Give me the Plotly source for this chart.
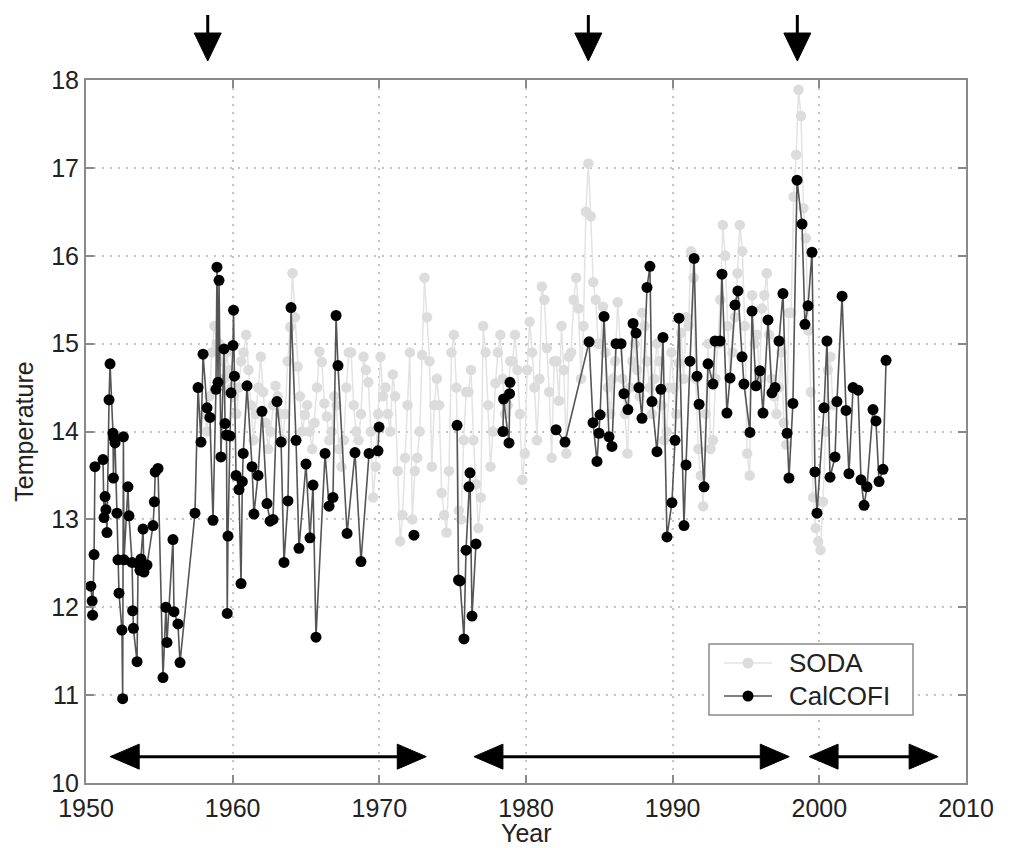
import plotly.graph_objects as go

# ---------------- data ----------------
x_ticks = [1950, 1960, 1970, 1980, 1990, 2000, 2010]
y_ticks = [10, 11, 12, 13, 14, 15, 16, 17, 18]

# CalCOFI (None = no sample, line break)
cal_year = [
    1950.33, 1950.42, 1950.45, 1950.55, 1950.61, 1951.16, 1951.23, 1951.30, 1951.36, 1951.43,
    1951.57, 1951.64, 1951.84, 1951.87, 1951.91, 1951.98, 1952.11, 1952.18, 1952.25, 1952.45,
    1952.50, 1952.55, 1952.59, 1952.86, 1952.93, 1953.14, 1953.18, 1953.23, 1953.48, 1953.55,
    1953.68, 1953.75, 1953.89, 1953.95, 1954.16, 1954.57, 1954.66, 1954.72, 1954.91, 1955.25,
    1955.45, 1955.52, 1955.93, 1956.00, 1956.27, 1956.41, 1957.43, 1957.64, 1957.84, 1957.98,
    1958.25, 1958.45, 1958.66, 1958.86, 1958.93, 1959.00, 1959.07, 1959.20, 1959.41, 1959.48,
    1959.58, 1959.63, 1959.68, 1959.82, 1959.89, 1960.02, 1960.06, 1960.12, 1960.23, 1960.43,
    1960.57, 1960.66, 1960.72, 1960.98, 1961.32, 1961.45, 1961.73, 1962.00, 1962.34, 1962.55,
    1962.75, 1963.02, 1963.30, 1963.50, 1963.77, 1963.98, 1964.32, 1964.52, 1965.00, 1965.27,
    1965.48, 1965.68, 1966.30, 1966.57, 1966.84, 1967.05, 1967.18, 1967.80, 1968.34, 1968.75,
    1969.30, 1969.91, 1969.98, None, 1972.36, None,
    1975.30, 1975.40, 1975.50, 1975.77, 1975.91, 1976.11, 1976.18, 1976.32, 1976.59, None,
    1978.43, 1978.47, 1978.84, 1978.88, 1978.91, None,
    1982.05, 1982.66, 1984.30, 1984.57, 1984.84, 1984.98, 1985.05, 1985.32, 1985.66, 1985.86,
    1986.14, 1986.48, 1986.68, 1986.95, 1987.30, 1987.50, 1987.70, 1987.91, 1988.25, 1988.45,
    1988.59, 1988.93, 1989.20, 1989.34, 1989.61, 1989.95, 1990.16, 1990.43, 1990.77, 1990.91,
    1991.18, 1991.46, 1991.66, 1991.80, 1992.14, 1992.41, 1992.75, 1992.89, 1993.23, 1993.36,
    1993.70, 1993.91, 1994.25, 1994.45, 1994.73, 1994.86, 1995.27, 1995.41, 1995.68, 1995.95,
    1996.16, 1996.50, 1996.77, 1996.98, 1997.25, 1997.52, 1997.80, 1997.93, 1998.20, 1998.48,
    1998.82, 1999.02, 1999.23, 1999.50, 1999.70, 1999.84, 2000.32, 2000.52, 2000.73, 2001.07,
    2001.20, 2001.55, 2001.82, 2002.02, 2002.30, 2002.64, 2002.84, 2003.05, 2003.25, 2003.66,
    2003.86, 2004.07, 2004.34, 2004.55,
]
cal_temp = [
    12.24, 12.07, 11.91, 12.60, 13.60, 13.68, 13.02, 13.26, 13.11, 12.85,
    14.36, 14.77, 13.98, 13.47, 13.93, 13.87, 13.07, 12.54, 12.16, 11.74,
    10.96, 13.94, 12.54, 13.37, 13.04, 12.51, 11.96, 11.76, 11.38, 12.50,
    12.42, 12.55, 12.89, 12.40, 12.48, 12.93, 13.20, 13.54, 13.58, 11.20,
    12.00, 11.60, 12.77, 11.95, 11.81, 11.37, 13.07, 14.50, 13.88, 14.88,
    14.27, 14.16, 12.99, 14.48, 15.87, 14.56, 15.72, 13.71, 14.94, 14.09,
    13.96, 11.93, 12.81, 13.95, 14.44, 14.98, 15.38, 14.63, 13.50, 13.34,
    12.27, 13.43, 13.75, 14.52, 13.60, 13.06, 13.50, 14.23, 13.18, 12.98,
    13.00, 14.34, 13.88, 12.51, 13.21, 15.41, 13.90, 12.67, 13.63, 12.79,
    13.39, 11.66, 13.75, 13.15, 13.25, 15.32, 14.75, 12.84, 13.76, 12.52,
    13.75, 13.78, 14.05, None, 12.82, None,
    14.07, 12.31, 12.30, 11.64, 12.65, 13.37, 13.53, 11.90, 12.72, None,
    14.00, 14.37, 13.87, 14.43, 14.56, None,
    14.02, 13.88, 15.02, 14.10, 13.66, 13.98, 14.19, 15.31, 13.94, 13.83,
    15.00, 15.00, 14.43, 14.25, 15.23, 15.12, 14.50, 14.15, 15.64, 15.88,
    14.34, 13.77, 14.48, 15.07, 12.80, 13.19, 13.90, 15.29, 12.93, 13.62,
    14.80, 15.97, 14.63, 14.31, 13.37, 14.77, 14.54, 15.03, 15.03, 15.79,
    14.21, 14.61, 15.44, 15.60, 14.85, 14.54, 13.99, 15.37, 14.52, 14.69,
    14.21, 15.27, 14.44, 14.50, 15.03, 15.57, 13.98, 13.47, 14.32, 16.86,
    16.36, 15.22, 15.43, 16.04, 13.54, 13.07, 14.27, 15.03, 13.48, 13.71,
    14.34, 15.54, 14.24, 13.52, 14.50, 14.47, 13.45, 13.16, 13.37, 14.25,
    14.12, 13.43, 13.57, 14.81,
]

# SODA (bi-monthly samples)
soda_year = [
    1958.08, 1958.25, 1958.42, 1958.58, 1958.75, 1958.92,
    1959.08, 1959.25, 1959.42, 1959.58, 1959.75, 1959.92,
    1960.08, 1960.25, 1960.42, 1960.58, 1960.75, 1960.92,
    1961.08, 1961.25, 1961.42, 1961.58, 1961.75, 1961.92,
    1962.08, 1962.25, 1962.42, 1962.58, 1962.75, 1962.92,
    1963.08, 1963.25, 1963.42, 1963.58, 1963.75, 1963.92,
    1964.08, 1964.25, 1964.42, 1964.58, 1964.75, 1964.92,
    1965.08, 1965.25, 1965.42, 1965.58, 1965.75, 1965.92,
    1966.08, 1966.25, 1966.42, 1966.58, 1966.75, 1966.92,
    1967.08, 1967.25, 1967.42, 1967.58, 1967.75, 1967.92,
    1968.08, 1968.25, 1968.42, 1968.58, 1968.75, 1968.92,
    1969.08, 1969.25, 1969.42, 1969.58, 1969.75, 1969.92,
    1970.08, 1970.25, 1970.42, 1970.58, 1970.75, 1970.92,
    1971.08, 1971.25, 1971.42, 1971.58, 1971.75, 1971.92,
    1972.08, 1972.25, 1972.42, 1972.58, 1972.75, 1972.92,
    1973.08, 1973.25, 1973.42, 1973.58, 1973.75, 1973.92,
    1974.08, 1974.25, 1974.42, 1974.58, 1974.75, 1974.92,
    1975.08, 1975.25, 1975.42, 1975.58, 1975.75, 1975.92,
    1976.08, 1976.25, 1976.42, 1976.58, 1976.75, 1976.92,
    1977.08, 1977.25, 1977.42, 1977.58, 1977.75, 1977.92,
    1978.08, 1978.25, 1978.42, 1978.58, 1978.75, 1978.92,
    1979.08, 1979.25, 1979.42, 1979.58, 1979.75, 1979.92,
    1980.08, 1980.25, 1980.42, 1980.58, 1980.75, 1980.92,
    1981.08, 1981.25, 1981.42, 1981.58, 1981.75, 1981.92,
    1982.08, 1982.25, 1982.42, 1982.58, 1982.75, 1982.92,
    1983.08, 1983.25, 1983.42, 1983.58, 1983.75, 1983.92,
    1984.08, 1984.25, 1984.42, 1984.58, 1984.75, 1984.92,
    1985.08, 1985.25, 1985.42, 1985.58, 1985.75, 1985.92,
    1986.08, 1986.25, 1986.42, 1986.58, 1986.75, 1986.92,
    1987.08, 1987.25, 1987.42, 1987.58, 1987.75, 1987.92,
    1988.08, 1988.25, 1988.42, 1988.58, 1988.75, 1988.92,
    1989.08, 1989.25, 1989.42, 1989.58, 1989.75, 1989.92,
    1990.08, 1990.25, 1990.42, 1990.58, 1990.75, 1990.92,
    1991.08, 1991.25, 1991.42, 1991.58, 1991.75, 1991.92,
    1992.08, 1992.25, 1992.42, 1992.58, 1992.75, 1992.92,
    1993.08, 1993.25, 1993.42, 1993.58, 1993.75, 1993.92,
    1994.08, 1994.25, 1994.42, 1994.58, 1994.75, 1994.92,
    1995.08, 1995.25, 1995.42, 1995.58, 1995.75, 1995.92,
    1996.08, 1996.25, 1996.42, 1996.58, 1996.75, 1996.92,
    1997.08, 1997.25, 1997.42, 1997.58, 1997.75, 1997.92,
    1998.08, 1998.25, 1998.42, 1998.58, 1998.75, 1998.92,
    1999.08, 1999.25, 1999.42, 1999.58, 1999.75, 1999.92,
    2000.08, 2000.25, 2000.42, 2000.58, 2000.75, 2000.92,
]
soda_temp = [
    14.20, 14.00, 14.40, 14.90, 15.20, 15.00,
    15.00, 14.80, 14.60, 14.90, 14.70, 14.50,
    14.40, 14.20, 14.50, 14.80, 14.90, 15.10,
    14.70, 14.30, 13.90, 14.20, 14.50, 14.85,
    14.45, 14.10, 13.80, 14.00, 14.30, 14.52,
    14.40, 14.20, 13.90, 14.20, 14.80, 15.19,
    15.80, 15.30, 14.74, 14.40, 14.00, 14.19,
    14.30, 14.00, 13.80, 14.10, 14.50, 14.91,
    14.79, 14.32, 14.17, 13.90, 14.00, 14.40,
    14.30, 13.80, 13.60, 13.90, 14.50, 14.90,
    14.90, 14.30, 14.00, 13.90, 14.20, 14.85,
    14.70, 14.56, 14.00, 13.25, 13.60, 14.20,
    14.85, 14.40, 14.50, 14.20, 14.00, 14.65,
    14.40, 13.55, 12.75, 13.05, 13.70, 14.30,
    14.90, 13.00, 13.55, 13.70, 14.00, 14.87,
    15.75, 15.30, 14.80, 13.60, 14.30, 14.60,
    14.30, 13.30, 13.05, 12.85, 13.55, 14.90,
    15.10, 14.50, 13.10, 13.00, 13.90, 14.45,
    14.45, 14.70, 13.90, 13.40, 12.90, 13.25,
    15.20, 14.90, 14.30, 13.60, 14.00, 14.55,
    14.90, 15.10, 14.60, 14.20, 14.30, 14.80,
    14.80, 15.10, 14.70, 14.20, 13.45, 13.75,
    14.70, 15.25, 14.90, 14.50, 13.90, 14.60,
    15.65, 15.50, 14.95, 14.45, 13.70, 14.80,
    14.80, 14.35, 15.20, 14.70, 13.75, 14.85,
    14.90, 15.50, 15.75, 15.40, 14.60, 15.20,
    16.50, 17.05, 16.45, 15.70, 15.50, 15.00,
    15.00, 15.42, 14.90, 14.50, 14.20, 14.60,
    14.80, 15.47, 15.00, 14.60, 14.20, 13.75,
    14.50, 14.80, 15.00, 14.70, 14.40, 15.35,
    15.20, 14.80, 14.50, 14.20, 14.60, 15.00,
    14.80, 14.30, 13.90, 14.00, 14.50, 14.90,
    14.50, 14.20, 14.78, 15.12, 14.60, 15.30,
    15.20, 16.05, 15.75, 14.60, 13.80, 13.50,
    13.15, 14.20, 15.00, 13.80, 13.90, 14.60,
    15.00, 15.50, 16.35, 16.00, 15.20, 14.60,
    14.90, 15.30, 15.80, 16.35, 16.05, 15.20,
    13.75, 13.50, 15.55, 15.00, 15.10, 14.60,
    15.40, 15.55, 15.80, 15.10, 14.60, 14.40,
    14.20, 14.50, 14.90, 14.10, 13.85, 15.35,
    15.35, 16.67, 17.15, 17.89, 17.59, 16.54,
    16.20, 15.15, 14.45, 13.25, 12.90, 12.75,
    12.65, 13.20, 14.00, 14.70, 14.85, 14.30,
]

# annotation marks: event arrows (years) and period arrows (start, end years)
event_years = [1958.3, 1984.25, 1998.5]
period_spans = [(1951.65, 1973.2), (1976.45, 1997.95), (1999.3, 2008.1)]
period_level = 10.30

series_names = ["SODA", "CalCOFI"]
x_title, y_title = "Year", "Temperature"

# ---------------- figure ----------------
GRID = "#c4c4c4"
FRAME = "#8a8a8a"
FONT = "Liberation Sans, Arial, Helvetica, sans-serif"
SODA_MARK, SODA_LINE = "#dcdcdc", "#e3e3e3"
CAL_MARK, CAL_LINE = "black", "#555555"

fig = go.Figure()
fig.add_trace(go.Scatter(
    x=soda_year, y=soda_temp, mode="lines+markers", name=series_names[0],
    line=dict(color=SODA_LINE, width=1.5),
    marker=dict(color=SODA_MARK, size=10.5, line=dict(width=0)),
    showlegend=False,
))
fig.add_trace(go.Scatter(
    x=cal_year, y=cal_temp, mode="lines+markers", name=series_names[1],
    connectgaps=False,
    line=dict(color=CAL_LINE, width=1.6),
    marker=dict(color=CAL_MARK, size=11, line=dict(width=0)),
    showlegend=False,
))

shapes = []
# downward event arrows above plot
for yr in event_years:
    shapes.append(dict(type="line", xref="x", yref="paper", x0=yr, x1=yr,
                       y0=1.0669, y1=1.0925, line=dict(color="black", width=3)))
    shapes.append(dict(type="path", xref="x", yref="paper", xsizemode="pixel", ysizemode="pixel",
                       xanchor=yr, yanchor=1.027, path="M -13.5 28 L 13.5 28 L 0 0 Z",
                       fillcolor="black", line=dict(color="black", width=1)))
# horizontal double arrows
for a, b in period_spans:
    shapes.append(dict(type="line", xref="x", yref="y", x0=a + 1.5, x1=b - 1.5,
                       y0=period_level, y1=period_level, line=dict(color="black", width=3)))
    shapes.append(dict(type="path", xref="x", yref="y", xsizemode="pixel", ysizemode="pixel",
                       xanchor=a, yanchor=period_level, path="M 0 0 L 29 12.5 L 29 -12.5 Z",
                       fillcolor="black", line=dict(color="black", width=1)))
    shapes.append(dict(type="path", xref="x", yref="y", xsizemode="pixel", ysizemode="pixel",
                       xanchor=b, yanchor=period_level, path="M 0 0 L -29 12.5 L -29 -12.5 Z",
                       fillcolor="black", line=dict(color="black", width=1)))

# legend box (drawn by hand to match the original layout)
W, H, ML, MT, MB, MR = 1015, 848, 86, 80, 65, 49
PW, PH = W - ML - MR, H - MT - MB
px = lambda x: (x - ML) / PW
py = lambda y: (H - MB - y) / PH
shapes.append(dict(type="rect", xref="paper", yref="paper", layer="above",
                   x0=px(709), x1=px(913), y0=py(715), y1=py(644),
                   fillcolor="white", line=dict(color=FRAME, width=1.5)))
annotations = []
for name, yy, lc, mc in [(series_names[0], 663, SODA_LINE, SODA_MARK),
                         (series_names[1], 696, CAL_LINE, CAL_MARK)]:
    shapes.append(dict(type="line", xref="paper", yref="paper", layer="above",
                       x0=px(724), x1=px(772), y0=py(yy), y1=py(yy),
                       line=dict(color=lc, width=1.6)))
    shapes.append(dict(type="circle", xref="paper", yref="paper", layer="above",
                       xsizemode="pixel", ysizemode="pixel", xanchor=px(748), yanchor=py(yy),
                       x0=-5.5, x1=5.5, y0=-5.5, y1=5.5,
                       fillcolor=mc, line=dict(color=mc, width=0)))
    annotations.append(dict(text=name, xref="paper", yref="paper", x=px(787), y=py(yy),
                            xanchor="left", yanchor="middle", showarrow=False,
                            font=dict(size=26, color="#222", family=FONT)))
# x-axis title placed below the tick labels, kept inside the canvas
annotations.append(dict(text=x_title, xref="paper", yref="paper", x=0.5, y=py(848),
                        xanchor="center", yanchor="bottom", showarrow=False, borderpad=0,
                        font=dict(size=25, color="#222", family=FONT)))

axis_common = dict(
    showline=True, linecolor=FRAME, linewidth=2, mirror="ticks",
    ticks="inside", ticklen=8, tickwidth=1.5, tickcolor=FRAME,
    showgrid=True, gridcolor=GRID, gridwidth=1.5, griddash="2px,6px",
    zeroline=False, tickfont=dict(size=25, color="#222"), automargin=False,
)

fig.update_layout(
    width=W, height=H,
    margin=dict(l=ML, r=MR, t=MT, b=MB, autoexpand=False),
    plot_bgcolor="white", paper_bgcolor="white",
    font=dict(family=FONT, size=25, color="#222"),
    shapes=shapes, annotations=annotations,
    showlegend=False,
    xaxis=dict(range=[1950, 2010], tickvals=x_ticks, ticklabelstandoff=2, **axis_common),
    yaxis=dict(range=[10, 18], tickvals=y_ticks,
               title=dict(text=y_title, standoff=10, font=dict(size=25)), **axis_common),
)

fig.write_html("out.html")
